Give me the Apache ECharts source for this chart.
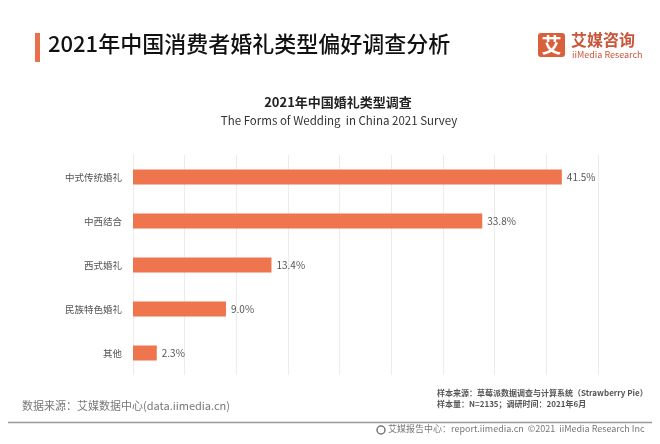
<!DOCTYPE html>
<html><head><meta charset="utf-8">
<script src="https://cdn.jsdelivr.net/npm/echarts@6/dist/echarts.min.js"></script>
<style>html,body{margin:0;padding:0;background:#fff}#c{width:660px;height:444px}</style>
</head><body><div id="c"></div>
<script>
const categories = ['中式传统婚礼', '中西结合', '西式婚礼', '民族特色婚礼', '其他'];
const values = [41.5, 33.8, 13.4, 9.0, 2.3];
const axisMax = 45;
const axisStep = 5;

const F = '"Noto Sans CJK SC","Noto Sans",sans-serif';
const chart = echarts.init(document.getElementById('c'), null, {renderer: 'canvas'});
chart.setOption({
  backgroundColor: '#fff',
  animation: false,
  title: [
    {text: '2021年中国婚礼类型调查', left: 333, top: 91, textAlign: 'center',
     textStyle: {fontFamily: F, fontSize: 13, fontWeight: 'bold', color: '#222'}},
    {text: 'The Forms of Wedding  in China 2021 Survey', left: 334, top: 110, textAlign: 'center',
     textStyle: {fontFamily: F, fontSize: 11.5, fontWeight: 'normal', color: '#333'}}
  ],
  grid: {left: 133, width: 465, top: 155, height: 220},
  xAxis: {type: 'value', min: 0, max: axisMax, interval: axisStep,
    axisLabel: {show: false}, axisLine: {show: false}, axisTick: {show: false},
    splitLine: {show: true, lineStyle: {color: '#ececec', width: 1}}},
  yAxis: {type: 'category', data: categories, inverse: true,
    axisLine: {show: false}, axisTick: {show: false},
    axisLabel: {fontFamily: F, fontSize: 9.5, color: '#555', margin: 11}},
  series: [{
    type: 'bar', data: values, barWidth: 15,
    itemStyle: {color: '#ee754d'},
    label: {show: true, position: 'right', distance: 5, fontFamily: F, fontSize: 10, color: '#555',
      formatter: p => p.value.toFixed(1) + '%'}
  }],
  graphic: [
    {type: 'rect', shape: {x: 35, y: 33, width: 5, height: 29}, style: {fill: '#e8704a'}},
    {type: 'text', left: 48, top: 33, style: {text: '2021年中国消费者婚礼类型偏好调查分析', font: '500 22px ' + F, fill: '#111'}},
    {type: 'rect', shape: {x: 538, y: 33, width: 27, height: 24, r: 3}, style: {fill: '#d9603b'}},
    {type: 'text', x: 551.5, y: 45, style: {text: '艾', font: 'bold 20px ' + F, fill: '#fff', align: 'center', verticalAlign: 'middle'}},
    {type: 'text', x: 571, y: 32, style: {text: '艾媒咨询', font: 'bold 16px ' + F, fill: '#c9553a'}},
    {type: 'text', x: 572, y: 50, style: {text: 'iiMedia Research', font: '9px ' + F, fill: '#c9553a'}},
    {type: 'text', x: 22, y: 400, style: {text: '数据来源：艾媒数据中心(data.iimedia.cn)', font: '11px ' + F, fill: '#777'}},
    {type: 'line', shape: {x1: 8, y1: 422.5, x2: 652, y2: 422.5}, style: {stroke: '#999', lineWidth: 1.5}},
    {type: 'text', x: 437, y: 389, style: {text: '样本来源：草莓派数据调查与计算系统（Strawberry Pie）', font: 'bold 8px ' + F, fill: '#555'}},
    {type: 'text', x: 437, y: 400, style: {text: '样本量：N=2135；调研时间：2021年6月', font: 'bold 8px ' + F, fill: '#555'}},
    {type: 'circle', shape: {cx: 381, cy: 430, r: 4}, style: {fill: 'none', stroke: '#777', lineWidth: 1.5}},
    {type: 'text', x: 388, y: 424.5, style: {text: '艾媒报告中心：report.iimedia.cn  ©2021  iiMedia Research Inc', font: '9px ' + F, fill: '#777'}}
  ]
});
</script></body></html>
